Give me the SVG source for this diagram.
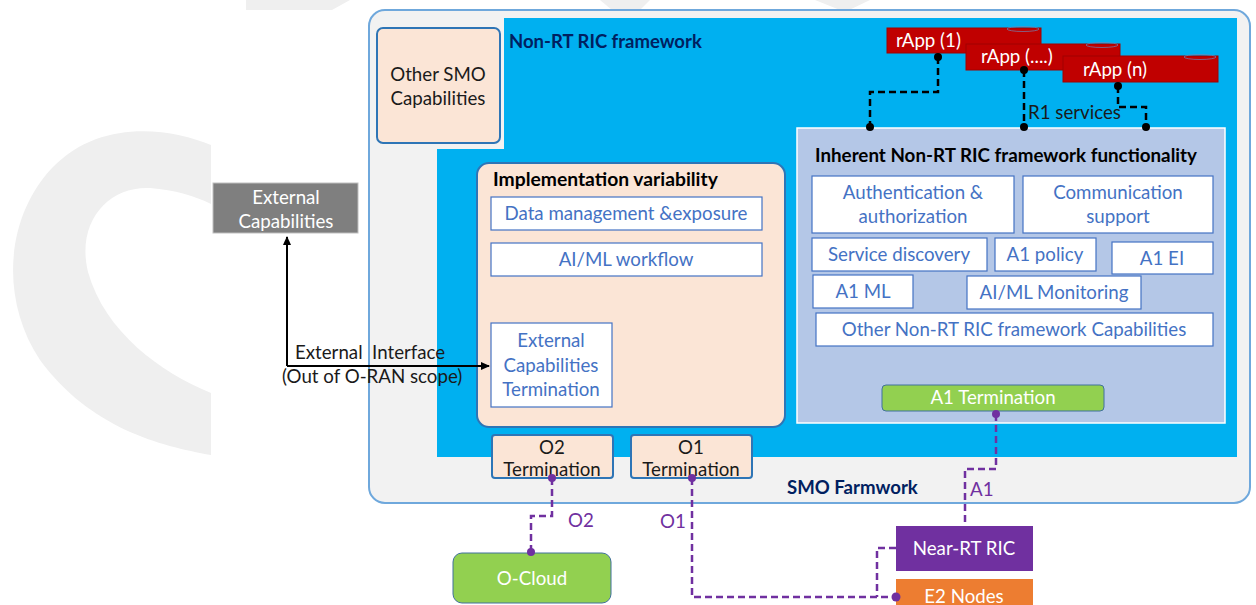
<svg xmlns="http://www.w3.org/2000/svg" width="1256" height="605" viewBox="0 0 1256 605">
<style>
text{font-family:Lato,"Open Sans","Liberation Sans",sans-serif;font-size:18.7px}
.c{text-anchor:middle}
.w{fill:#ffffff}
.k{fill:#1a1a1a}
.b{fill:#4472c4}
.nv{fill:#002060;font-weight:bold}
.bold{font-weight:bold;fill:#000}
.pu{fill:#7030a0}
.inner{fill:#ffffff;stroke:#4472c4;stroke-width:1.2}
.peach{fill:#fbe5d6;stroke:#2e75b6;stroke-width:2}
.rapp{fill:#c00000;stroke:#a00000;stroke-width:1}
.cap{fill:none;stroke:#6f86b8;stroke-width:0.7}
.dk{fill:none;stroke:#000;stroke-width:2.5;stroke-dasharray:7 4}
.dp{fill:none;stroke:#7030a0;stroke-width:2.5;stroke-dasharray:7 4}
.solid{fill:none;stroke:#000;stroke-width:2}
</style>
<defs>
<marker id="ah" markerWidth="10" markerHeight="10" refX="8" refY="5" orient="auto" markerUnits="userSpaceOnUse">
<path d="M0,1 L9,5 L0,9 Z" fill="#000"/>
</marker>
</defs>
<rect width="1256" height="605" fill="#ffffff"/>
<g id="watermark" fill="#efefef">
<path d="M211,145 C170,128 100,118 52,168 C5,218 0,300 40,360 C90,428 160,446 211,455 L211,393 C160,372 105,332 88,272 C76,222 108,186 150,188 C175,190 195,196 211,204 Z"/>
<path d="M246,0 L350,0 L332,10 L246,10 Z"/>
<path d="M600,0 L650,0 L640,10 L612,10 Z"/>
<path d="M815,0 L870,0 L845,12 Z"/>
</g>
<g id="smo">
<rect x="369" y="10" width="881" height="493" rx="16" fill="#f2f2f2" stroke="#6fa8dc" stroke-width="2"/>
<text x="787" y="494" class="nv" style="font-size:18.6px">SMO Farmwork</text>
</g>
<g id="nonrt">
<path d="M504,18 L1237,18 L1237,457 L437,457 L437,149 L504,149 Z" fill="#00b0f0"/>
<text x="509" y="48" class="nv" style="font-size:18.5px">Non-RT RIC framework</text>
</g>
<g id="other-smo">
<rect x="377" y="28" width="123" height="115" rx="6" class="peach"/>
<text x="438" y="81" class="c k">Other SMO</text>
<text x="438" y="105" class="c k">Capabilities</text>
</g>
<g id="inherent">
<rect x="797" y="128" width="428" height="295" fill="#b4c7e7" stroke="#ffffff" stroke-width="1.5"/>
<text x="1006" y="162" class="c bold" style="font-size:18.8px">Inherent Non-RT RIC framework functionality</text>
</g>
<g id="auth"><rect x="812" y="176" width="202" height="57" class="inner"/>
<text x="913" y="199" class="c b">Authentication &amp;</text>
<text x="913" y="223" class="c b">authorization</text></g>
<g id="comm"><rect x="1023" y="176" width="190" height="57" class="inner"/>
<text x="1118" y="199" class="c b">Communication</text>
<text x="1118" y="223" class="c b">support</text></g>
<g id="svcdisc"><rect x="812" y="238" width="175" height="33" class="inner"/>
<text x="899" y="261" class="c b">Service discovery</text></g>
<g id="a1policy"><rect x="995" y="238" width="101" height="33" class="inner"/>
<text x="1045" y="261" class="c b">A1 policy</text></g>
<g id="a1ei"><rect x="1112" y="242" width="101" height="32" class="inner"/>
<text x="1162" y="265" class="c b">A1 EI</text></g>
<g id="a1ml"><rect x="813" y="275" width="100" height="33" class="inner"/>
<text x="863" y="298" class="c b">A1 ML</text></g>
<g id="aimlmon"><rect x="967" y="276" width="174" height="33" class="inner"/>
<text x="1054" y="299" class="c b">AI/ML Monitoring</text></g>
<g id="othernonrt"><rect x="816" y="313" width="397" height="33" class="inner"/>
<text x="1014" y="336" class="c b">Other Non-RT RIC framework Capabilities</text></g>
<g id="a1term">
<rect x="882" y="385" width="222" height="26" rx="4" fill="#92d050" stroke="#41719c" stroke-width="1"/>
<text x="993" y="404" class="c w">A1 Termination</text>
</g>
<g id="rapp1">
<rect x="887" y="28" width="154" height="25" class="rapp"/>
<ellipse cx="1023" cy="29" rx="16" ry="2.5" class="cap"/>
<text x="896" y="47" class="w">rApp (1)</text>
</g>
<g id="rappdots">
<rect x="966" y="44" width="154" height="26" class="rapp"/>
<ellipse cx="1102" cy="45" rx="16" ry="2.5" class="cap"/>
<text x="981" y="63" class="w">rApp (....)</text>
</g>
<g id="rappn">
<rect x="1063" y="56" width="155" height="26" class="rapp"/>
<ellipse cx="1200" cy="57" rx="16" ry="2.5" class="cap"/>
<text x="1083" y="76" class="w">rApp (n)</text>
</g>
<g id="impl">
<rect x="477" y="163" width="308" height="264" rx="12" class="peach"/>
<text x="493" y="186" class="bold" style="font-size:19.3px">Implementation variability</text>
</g>
<g id="datamgmt"><rect x="491" y="197" width="271" height="33" class="inner"/>
<text x="626" y="220" class="c b">Data management &amp;exposure</text></g>
<g id="aimlwf"><rect x="491" y="243" width="271" height="33" class="inner"/>
<text x="626" y="266" class="c b">AI/ML workflow</text></g>
<g id="extcapterm"><rect x="491" y="323" width="121" height="84" class="inner"/>
<text x="551" y="347" class="c b">External</text>
<text x="551" y="372" class="c b">Capabilities</text>
<text x="551" y="396" class="c b">Termination</text></g>
<g id="extcap">
<rect x="213" y="183" width="145" height="50" fill="#7f7f7f" stroke="#bfbfbf" stroke-width="1"/>
<text x="286" y="204" class="c w">External</text>
<text x="286" y="228" class="c w">Capabilities</text>
</g>
<g id="o2term">
<rect x="492" y="435" width="121" height="43" rx="3" class="peach"/>
<text x="552" y="454" class="c k">O2</text>
<text x="552" y="476" class="c k">Termination</text>
</g>
<g id="o1term">
<rect x="631" y="435" width="121" height="43" rx="3" class="peach"/>
<text x="691" y="454" class="c k">O1</text>
<text x="691" y="476" class="c k">Termination</text>
</g>
<g id="ocloud">
<rect x="453" y="553" width="158" height="50" rx="9" fill="#92d050" stroke="#41719c" stroke-width="1"/>
<text x="532" y="585" class="c w">O-Cloud</text>
</g>
<g id="nearrt">
<rect x="896" y="526" width="137" height="45" fill="#7030a0"/>
<text x="964" y="555" class="c w">Near-RT RIC</text>
</g>
<g id="e2">
<rect x="896" y="579" width="137" height="30" fill="#ed7d31"/>
<text x="964" y="603" class="c w">E2 Nodes</text>
</g>
<g id="connectors">
<path d="M938,57 V92 H870 V127" class="dk"/>
<path d="M1024,70 V127" class="dk"/>
<path d="M1118,86 V107 H1146 V127" class="dk"/>
<g fill="#000">
<circle cx="938" cy="57" r="4"/><circle cx="870" cy="127" r="4"/>
<circle cx="1024" cy="70" r="4"/><circle cx="1024" cy="127" r="4"/>
<circle cx="1118" cy="86" r="4"/><circle cx="1146" cy="127" r="4"/>
</g>
<text x="1028" y="119" class="k">R1 services</text>
<path d="M287,366 V237" class="solid" marker-end="url(#ah)"/>
<path d="M287,366 H489" class="solid" marker-end="url(#ah)"/>
<text x="295" y="359" class="k" style="white-space:pre" xml:space="preserve">External  Interface</text>
<text x="282" y="383" class="k">(Out of O-RAN scope)</text>
<path d="M552,478 V516 H531 V552" class="dp"/>
<path d="M692,478 V597 H896" class="dp"/>
<path d="M996,414 V469 H965 V526" class="dp"/>
<path d="M896,548 H877 V597" class="dp"/>
<g fill="#7030a0">
<circle cx="552" cy="478" r="4"/><circle cx="531" cy="552" r="4"/>
<circle cx="692" cy="478" r="4"/><circle cx="896" cy="597" r="4.5"/>
<circle cx="996" cy="414" r="4"/>
</g>
<text x="568" y="527" class="pu">O2</text>
<text x="660" y="528" class="pu">O1</text>
<text x="970" y="496" class="pu">A1</text>
</g>
</svg>
